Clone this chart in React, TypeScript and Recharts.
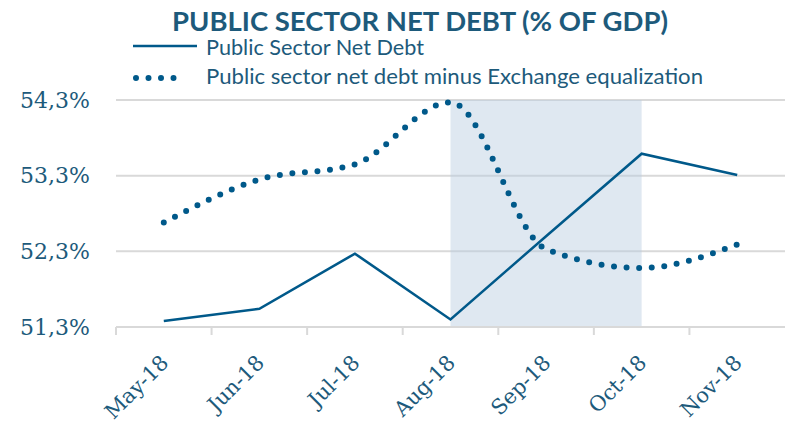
import React from 'react';
import { LineChart, Line, XAxis, YAxis, CartesianGrid, ReferenceArea } from 'recharts';

const months = ['May-18', 'Jun-18', 'Jul-18', 'Aug-18', 'Sep-18', 'Oct-18', 'Nov-18'];
const netDebt = [51.38, 51.54, 52.27, 51.4, 52.5, 53.59, 53.31];
const netDebtExEq = [52.68, 53.25, 53.45, 54.27, 52.33, 52.08, 52.39];
const yTicks = [51.3, 52.3, 53.3, 54.3];

const data = months.map((m, i) => ({ idx: i, month: m, debt: netDebt[i], debtEx: netDebtExEq[i] }));

const BLUE = '#00598a';
const TEXT = '#1d5a7b';
const GRID = '#d9d9d9';
const W = 785;
const H = 424;
const LEFT = 116;
const bandW = (W - LEFT) / months.length;

const fmt = (v: number) => v.toFixed(1).replace('.', ',') + '%';

function MonthTick(props: any) {
  const { x, y, payload } = props;
  const ax = x + 6;
  const ay = y + 37;
  return (
    <g>
      <line x1={x - bandW / 2} x2={x - bandW / 2} y1={y} y2={y + 8} stroke={GRID} strokeWidth={2} />
      <text
        x={ax}
        y={ay}
        textAnchor="end"
        transform={`rotate(-45, ${ax}, ${ay})`}
        fill={TEXT}
        fontSize={21}
        fontFamily="DejaVu Serif"
      >
        {payload.value}
      </text>
    </g>
  );
}

export default function App() {
  return (
    <div style={{ position: 'absolute', left: 0, top: 0, width: W, height: H, background: '#fff' }}>
      <svg width={W} height={100} style={{ position: 'absolute', left: 0, top: 0 }}>
        <text
          x={420}
          y={31}
          textAnchor="middle"
          textLength={496}
          lengthAdjust="spacingAndGlyphs"
          fontFamily="Lato"
          fontWeight="bold"
          fontSize={27}
          fill={TEXT}
        >
          PUBLIC SECTOR NET DEBT (% OF GDP)
        </text>
        <line x1={133} x2={197} y1={46} y2={46} stroke={BLUE} strokeWidth={2.5} />
        <text
          x={206}
          y={55}
          textLength={218}
          lengthAdjust="spacingAndGlyphs"
          fontFamily="Lato"
          fontSize={21}
          fill={TEXT}
        >
          Public Sector Net Debt
        </text>
        <line
          x1={136}
          x2={186}
          y1={78}
          y2={78}
          stroke={BLUE}
          strokeWidth={6}
          strokeLinecap="round"
          strokeDasharray="0 12.5"
        />
        <text
          x={206}
          y={84}
          textLength={497}
          lengthAdjust="spacingAndGlyphs"
          fontFamily="Lato"
          fontSize={21}
          fill={TEXT}
        >
          Public sector net debt minus Exchange equalization
        </text>
      </svg>
      <LineChart
        width={W}
        height={H}
        data={data}
        margin={{ top: 100, right: 0, left: 0, bottom: 0 }}
      >
        <CartesianGrid vertical={false} stroke={GRID} strokeWidth={2} />
        <XAxis xAxisId="num" dataKey="idx" type="number" domain={[-0.5, months.length - 0.5]} hide />
        <ReferenceArea xAxisId="num" x1={3} x2={5} fill="#b9cde0" fillOpacity={0.45} stroke="none" />
        <XAxis
          dataKey="month"
          scale="band"
          height={97}
          axisLine={{ stroke: GRID, strokeWidth: 2 }}
          tickLine={false}
          tickSize={0}
          tickMargin={0}
          interval={0}
          tick={<MonthTick />}
        />
        <YAxis
          width={LEFT}
          domain={[51.3, 54.3]}
          ticks={yTicks}
          tickFormatter={fmt}
          axisLine={false}
          tickLine={false}
          tickSize={0}
          tickMargin={26}
          tick={{ fill: TEXT, fontSize: 22, fontFamily: 'DejaVu Serif' }}
        />
        <Line
          type="linear"
          dataKey="debt"
          stroke={BLUE}
          strokeWidth={2.5}
          dot={false}
          isAnimationActive={false}
        />
        <Line
          type="monotone"
          dataKey="debtEx"
          stroke={BLUE}
          strokeWidth={6}
          strokeLinecap="round"
          strokeDasharray="0 12.6"
          dot={false}
          isAnimationActive={false}
        />
      </LineChart>
    </div>
  );
}
